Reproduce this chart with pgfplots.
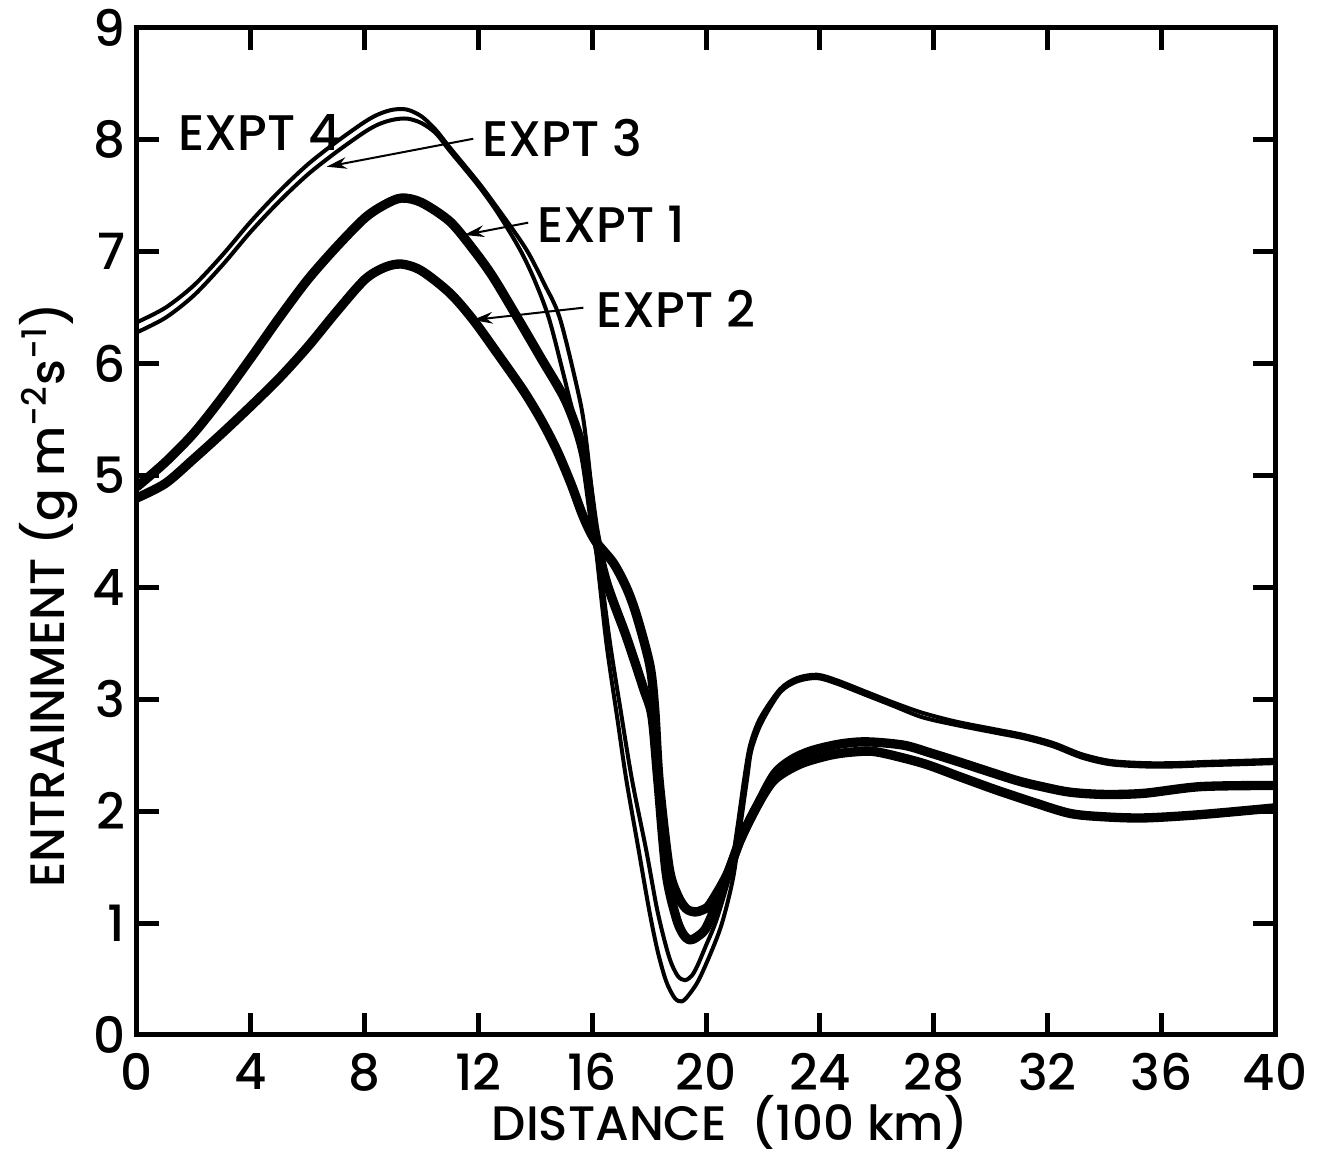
\documentclass[border=0pt]{standalone}
\usepackage{pgfplots}
\pgfplotsset{compat=1.18}
\usepackage{fontspec}
\setmainfont{Poppins}[UprightFont={* Medium}]
\usetikzlibrary{arrows.meta}

\pgfplotstableread{
x y
0 6.37
1 6.5
2 6.7
3 6.97
4 7.27
5 7.54
6 7.78
7 7.98
8 8.16
8.5 8.23
9 8.27
9.5 8.27
10 8.21
10.5 8.09
11 7.93
12 7.62
12.7 7.38
13.4 7.13
13.8 6.97
14.3 6.72
14.87 6.4
15.57 5.67
15.8 5.29
16.0 4.82
16.2 4.35
16.6 3.55
17.0 2.9
17.4 2.28
17.9 1.65
18.3 1.1
18.7 0.7
19.0 0.53
19.26 0.49
19.5 0.53
19.7 0.62
20.0 0.8
20.37 1.03
20.84 1.44
21.1 1.85
21.35 2.3
21.55 2.59
21.9 2.83
22.6 3.09
23.2 3.19
23.9 3.22
24.6 3.17
25.6 3.07
26.6 2.97
27.6 2.88
28.8 2.8
30.2 2.73
31.2 2.68
32.2 2.61
33.2 2.51
34.2 2.45
35.4 2.43
36.5 2.43
37.5 2.44
38.8 2.45
40 2.46
}\expfour

\pgfplotstableread{
x y
0 6.28
1 6.41
2 6.61
3 6.88
4 7.18
5 7.45
6 7.69
7 7.89
8 8.07
8.5 8.14
9 8.18
9.5 8.19
10 8.15
10.5 8.06
11 7.9
12 7.59
12.7 7.34
13.46 7.02
14.0 6.73
14.52 6.37
15.22 5.67
15.69 5.2
15.95 4.7
16.15 4.3
16.5 3.5
16.9 2.8
17.2 2.28
17.6 1.7
18.0 1.12
18.3 0.75
18.6 0.48
18.9 0.33
19.15 0.3
19.4 0.36
19.8 0.52
20.5 0.95
20.95 1.4
21.2 1.85
21.45 2.3
21.6 2.55
21.95 2.79
22.6 3.06
23.2 3.16
23.9 3.19
24.6 3.14
25.6 3.04
26.6 2.94
27.6 2.84
28.8 2.77
30.2 2.7
31.2 2.65
32.2 2.58
33.2 2.48
34.2 2.42
35.4 2.4
36.5 2.4
37.5 2.41
38.8 2.42
40 2.43
}\expthree

\pgfplotstableread{
x y
0 4.9
1 5.12
2 5.38
3 5.7
4 6.05
5 6.41
6 6.75
7 7.04
8 7.3
8.7 7.42
9.3 7.48
10 7.44
11 7.27
11.82 7.02
12.5 6.78
13.35 6.42
14.2 6.05
15.1 5.65
15.69 5.2
16.1 4.5
16.5 4.05
17.2 3.56
17.8 3.1
18.1 2.85
18.3 2.3
18.6 1.45
18.95 1.05
19.2 0.9
19.44 0.85
19.7 0.88
20.03 0.97
20.6 1.32
21.2 1.74
21.78 2.04
22.4 2.33
23.0 2.46
23.7 2.54
24.7 2.6
25.65 2.62
26.95 2.59
27.9 2.52
28.9 2.44
30.85 2.28
31.8 2.22
32.8 2.17
34.0 2.15
35.4 2.16
37.4 2.22
40 2.23
}\expone

\pgfplotstableread{
x y
0 4.8
1 4.93
2 5.15
3 5.38
4 5.62
5 5.87
6 6.15
7 6.46
8 6.75
8.7 6.86
9.3 6.89
10 6.83
11 6.63
11.82 6.39
12.7 6.08
13.58 5.76
14.2 5.5
14.75 5.23
15.25 4.93
15.69 4.63
16.1 4.42
16.74 4.22
17.2 4.0
17.56 3.75
18.03 3.3
18.2 2.9
18.35 2.28
18.7 1.5
19.0 1.25
19.3 1.13
19.61 1.1
19.9 1.12
20.14 1.17
20.73 1.43
21.2 1.74
21.78 2.04
22.4 2.28
23.3 2.42
24.35 2.5
25.2 2.53
26.0 2.53
27.6 2.43
28.9 2.31
30.2 2.19
31.5 2.08
32.8 1.98
34.0 1.95
35.4 1.94
37.4 1.97
40 2.03
}\exptwo

\begin{document}
\begin{tikzpicture}
\begin{axis}[
  name=ax,
  scale only axis,
  width=341.4pt, height=302.1pt,
  xmin=0, xmax=40, ymin=0, ymax=9,
  xtick={0,4,...,40}, ytick={0,1,...,9},
  xtick pos=both, ytick pos=both,
  xticklabel pos=lower, yticklabel pos=left,
  tick align=inside,
  major tick length=6.6pt,
  every tick/.style={line width=1.5pt, black},
  axis line style={line width=1.5pt, black},
  /pgf/number format/assume math mode=true,
  ticklabel style={font=\fontsize{15}{15}\selectfont},
  xticklabel style={yshift=-2pt},
  xlabel={DISTANCE\ \ (100 km)},
  ylabel={ENTRAINMENT (g m\textsuperscript{-2}s\textsuperscript{-1})},
  label style={font=\fontsize{14.5}{15}\selectfont},
  xlabel style={at={(axis description cs:0.521,-0.0864)}, anchor=center},
  ylabel style={at={(axis description cs:-0.078,0.437)}, anchor=center},
  every axis plot/.append style={black, line join=round, line cap=round},
]
\addplot[line width=1.2pt, smooth, tension=0.5] table[x=x,y=y]{\expfour};
\addplot[line width=1.2pt, smooth, tension=0.5] table[x=x,y=y]{\expthree};
\addplot[line width=2.8pt, smooth, tension=0.5] table[x=x,y=y]{\expone};
\addplot[line width=2.8pt, smooth, tension=0.5] table[x=x,y=y]{\exptwo};

\node[font=\fontsize{15}{15}\selectfont, anchor=center] at (axis cs:4.3,8.07) {EXPT 4};
\node[font=\fontsize{15}{15}\selectfont, anchor=center] at (axis cs:14.94,8.02) {EXPT 3};
\node[font=\fontsize{15}{15}\selectfont, anchor=center] at (axis cs:16.66,7.25) {EXPT 1};
\node[font=\fontsize{15}{15}\selectfont, anchor=center] at (axis cs:18.95,6.49) {EXPT 2};
\draw[line width=0.6pt, -{Stealth[length=6pt, width=3.5pt]}] (axis cs:11.82,8.01) -- (axis cs:6.67,7.76);
\draw[line width=0.6pt, -{Stealth[length=6pt, width=3.5pt]}] (axis cs:13.75,7.26) -- (axis cs:11.5,7.15);
\draw[line width=0.6pt, -{Stealth[length=6pt, width=3.5pt]}] (axis cs:15.69,6.5) -- (axis cs:11.8,6.39);
\end{axis}
\pgfresetboundingbox
\path ([xshift=-41.1pt,yshift=-36pt]ax.south west) rectangle ([xshift=12.6pt,yshift=8.4pt]ax.north east);
\end{tikzpicture}
\end{document}
